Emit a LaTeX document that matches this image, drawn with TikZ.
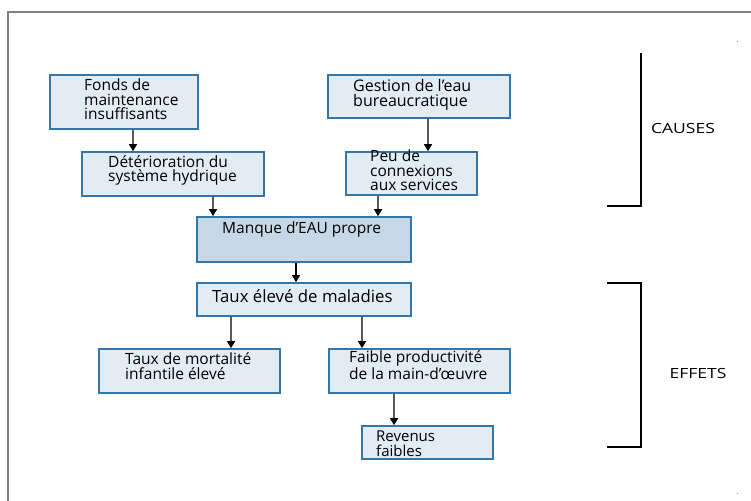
\documentclass[tikz,border=0pt]{standalone}
\usepackage{fontspec}
\setmainfont{Open Sans}
\usetikzlibrary{arrows.meta}
\definecolor{boxline}{RGB}{52,118,168}
\definecolor{boxfill}{RGB}{226,236,243}
\definecolor{boxdark}{RGB}{198,216,230}
\definecolor{framegray}{RGB}{128,128,128}
\newcommand{\widetext}[1]{\scalebox{1.25}[1]{#1}}
\begin{document}
\begin{tikzpicture}[x=1bp,y=-1bp,
  box/.style={draw=boxline, line width=1.6bp, fill=boxfill, rectangle, inner sep=0pt},
  boxtext/.style={anchor=base west, inner sep=0pt, align=left,
    font=\fontsize{15.5bp}{14.5bp}\selectfont},
  sidetext/.style={inner sep=0pt, font=\fontsize{14bp}{15bp}\selectfont},
  arr/.style={line width=1.3bp, -{Triangle[width=8bp,length=7bp]}},
  brace/.style={line width=1.1bp, black}]
\useasboundingbox (0,0) rectangle (751,501);

% outer frame
\draw[framegray, line width=1.5bp] (8,501) -- (8,12) -- (751,12);
\fill[framegray] (736.5,41.5) rectangle (737.5,42.5);
\fill[framegray] (736.5,492.5) rectangle (737.5,493.5);

% boxes
\node[box, minimum width=148bp, minimum height=54bp] (fonds) at (124,102) {};
\node[box, minimum width=182bp, minimum height=44bp] (deter) at (173,174) {};
\node[box, minimum width=182bp, minimum height=43bp] (gestion) at (419,96.5) {};
\node[box, minimum width=131bp, minimum height=43bp] (peu) at (411.5,173.5) {};
\node[box, fill=boxdark, minimum width=214bp, minimum height=45bp] (manque) at (304,239.5) {};
\node[box, minimum width=214bp, minimum height=33bp] (taux) at (304,299.5) {};
\node[box, minimum width=181bp, minimum height=44bp] (mort) at (189.5,371) {};
\node[box, minimum width=181bp, minimum height=44bp] (faible) at (419.5,371) {};
\node[box, minimum width=131bp, minimum height=33bp] (revenus) at (427.5,442.5) {};

% box texts (anchored at the baseline of the last line)
\node[boxtext] (tfonds) at (84,120) {Fonds de\\maintenance\\insuffisants};
\node[boxtext] (tdeter) at (108,182) {Détérioration du\\système hydrique};
\node[boxtext, font=\fontsize{16bp}{14.5bp}\selectfont] (tgestion) at (353,106.5) {Gestion de l’eau\\bureaucratique};
\node[boxtext] (tpeu) at (370,191) {Peu de\\connexions\\aux services};
\node[boxtext] (tmanque) at (222,234) {Manque d’EAU propre};
\node[boxtext, font=\fontsize{16.8bp}{15bp}\selectfont] (ttaux) at (212,302) {Taux élevé de maladies};
\node[boxtext] (tmort) at (125,379) {Taux de mortalité\\infantile élevé};
\node[boxtext] (tfaible) at (349,379) {Faible productivité\\de la main-d’œuvre};
\node[boxtext, font=\fontsize{15bp}{15bp}\selectfont] (trevenus) at (376,456) {Revenus\\faibles};

% connectors
\draw[arr] ([xshift=9bp]fonds.south) -- ([xshift=-40bp]deter.north);
\draw[arr] ([xshift=9bp]gestion.south) -- ([xshift=16.5bp]peu.north);
\draw[arr] ([xshift=40bp]deter.south) -- ([xshift=-91bp]manque.north);
\draw[arr] ([xshift=-33.5bp]peu.south) -- ([xshift=74bp]manque.north);
\draw[arr] ([xshift=-8bp]manque.south) -- ([xshift=-8bp]taux.north);
\draw[arr] ([xshift=-73bp]taux.south) -- ([xshift=41.5bp]mort.north);
\draw[arr] ([xshift=58bp]taux.south) -- ([xshift=-57.5bp]faible.north);
\draw[arr] ([xshift=-25.5bp]faible.south) -- ([xshift=-33.5bp]revenus.north);

% side brackets
\coordinate (ctop) at (641,53);
\coordinate (cbot) at (641,206);
\coordinate (cend) at (607,206);
\draw[brace] (ctop) -- (cbot) -- (cend);
\coordinate (etop) at (607,283);
\coordinate (etr) at (641,283);
\coordinate (ebr) at (641,447);
\coordinate (ebot) at (607,447);
\draw[brace] (etop) -- (etr) -- (ebr) -- (ebot);
\node[sidetext] (causes) at (683,129) {\widetext{CAUSES}};
\node[sidetext] (effets) at (698,373) {\widetext{EFFETS}};
\end{tikzpicture}
\end{document}
